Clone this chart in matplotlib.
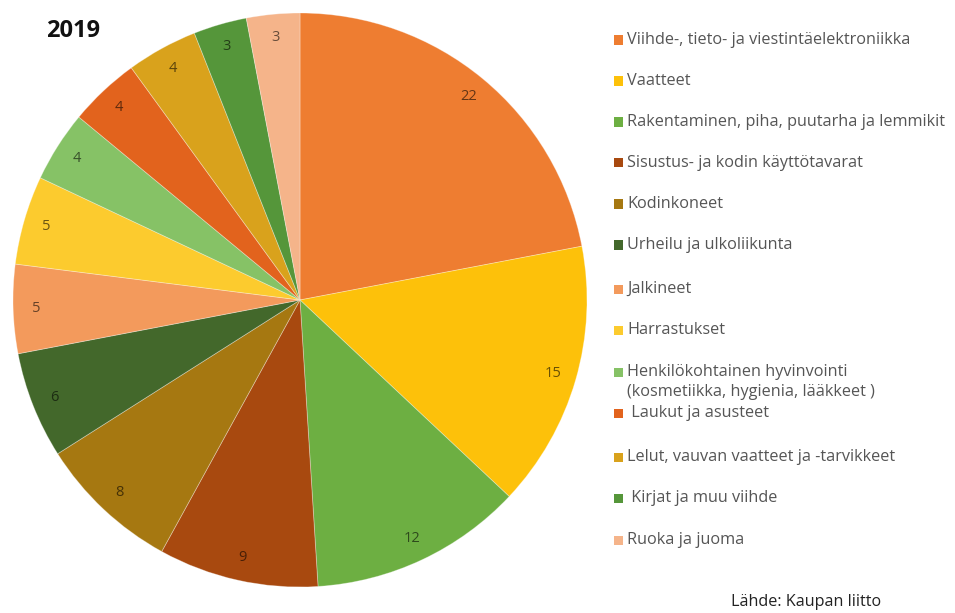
import matplotlib
matplotlib.use("Agg")
import matplotlib.pyplot as plt
from matplotlib.patches import Rectangle
import matplotlib.colors as mcolors
import numpy as np

categories = [
    "Viihde-, tieto- ja viestintäelektroniikka",
    "Vaatteet",
    "Rakentaminen, piha, puutarha ja lemmikit",
    "Sisustus- ja kodin käyttötavarat",
    "Kodinkoneet",
    "Urheilu ja ulkoliikunta",
    "Jalkineet",
    "Harrastukset",
    "Henkilökohtainen hyvinvointi\n(kosmetiikka, hygienia, lääkkeet )",
    " Laukut ja asusteet",
    "Lelut, vauvan vaatteet ja -tarvikkeet",
    " Kirjat ja muu viihde",
    "Ruoka ja juoma",
]
values = [22, 15, 12, 9, 8, 6, 5, 5, 4, 4, 4, 3, 3]
colors = [
    "#EE7D31", "#FDC10A", "#6DAF42", "#A8490F", "#A67811", "#43682B",
    "#F39A5C", "#FCCB2E", "#86C266", "#E2631D", "#D9A21C", "#55963A", "#F5B48A",
]
legend_y = [40, 81, 122, 163, 204, 245, 289, 330, 372, 413, 457, 498, 540]

W, H = 955, 613
fig = plt.figure(figsize=(W / 100, H / 100), dpi=100)
fig.patch.set_facecolor("white")

cx, cy, r = 300, 300, 287
ax = fig.add_axes([(cx - r) / W, (H - cy - r) / H, 2 * r / W, 2 * r / H])
ax.set_aspect("equal")

wedges, _ = ax.pie(
    values, colors=colors, startangle=90, counterclock=False, radius=1.0,
    wedgeprops=dict(edgecolor=(1, 1, 1, 0.35), linewidth=0.6),
)

# value labels near the rim, in a darker shade of each slice
for w, v, c in zip(wedges, values, colors):
    ang = np.deg2rad((w.theta1 + w.theta2) / 2)
    rgb = np.array(mcolors.to_rgb(c)) * 0.42
    ax.text(0.92 * np.cos(ang), 0.92 * np.sin(ang), str(v), ha="center",
            va="center", fontsize=10.5, color=rgb, family="Open Sans")
ax.set_xlim(-1, 1)
ax.set_ylim(-1, 1)
ax.axis("off")

fig.text(73 / W, 1 - 31 / H, "2019", fontsize=17, fontweight="bold",
         family="Open Sans", color="#111111", ha="center", va="center")

# legend drawn manually
for lab, y, c in zip(categories, legend_y, colors):
    fig.add_artist(Rectangle((614 / W, 1 - (y + 4.5) / H), 9 / W, 9 / H,
                             transform=fig.transFigure, color=c, lw=0))
    for i, ln in enumerate(lab.split("\n")):
        fig.text(627 / W, 1 - (y + 20 * i) / H, ln, fontsize=11.7,
                 family="Open Sans", color="#555555", ha="left", va="center")

fig.text(806 / W, 1 - 602 / H, "Lähde: Kaupan liitto", fontsize=11.6,
         family="Open Sans", color="#222222", ha="center", va="center")

fig.savefig("out.png", dpi=100, facecolor="white")
